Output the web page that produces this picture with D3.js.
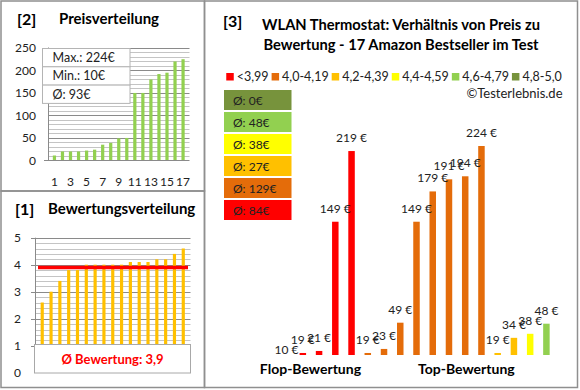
<!DOCTYPE html>
<html lang="de">
<head>
<meta charset="UTF-8">
<title>WLAN Thermostat</title>
<script src="https://cdn.jsdelivr.net/npm/d3@7"></script>
<style>
  body { margin: 0; background: #fff; }
  svg { display: block; font-family: Lato, "Liberation Sans", sans-serif; }
</style>
</head>
<body>
<svg width="580" height="390"></svg>
<script>
// Daten
var pricesSorted = [10, 19, 19, 19, 21, 23, 34, 38, 48, 49, 149, 149, 179, 191, 194, 219, 224];
var ratingsSorted = [2.6, 3.0, 3.4, 3.8, 3.8, 4.0, 4.0, 4.0, 4.0, 4.0, 4.1, 4.1, 4.1, 4.2, 4.2, 4.4, 4.6];

// Preis je Produkt (von Flop nach Top) und Bewertungsklasse
var productPrices = [10, 19, 21, 149, 219, 19, 23, 49, 149, 179, 191, 194, 224, 19, 34, 38, 48];
var productClass  = [0, 0, 0, 0, 0, 1, 1, 1, 1, 1, 1, 1, 1, 2, 2, 3, 4];

var classNames  = ['<3,99', '4,0-4,19', '4,2-4,39', '4,4-4,59', '4,6-4,79', '4,8-5,0'];
var classColors = ['#ff0000', '#e46c0a', '#ffc000', '#ffff00', '#92d050', '#77933c'];
var classAvg    = [84, 129, 27, 38, 48, 0];

var groupNames = ['Flop-Bewertung', 'Top-Bewertung'];

var svg = d3.select('svg');
var border = '#8f8f8f';

// Rahmen
svg.append('rect').attr('x', 1).attr('y', 1).attr('width', 203.5).attr('height', 190)
    .attr('fill', 'none').attr('stroke', border).attr('stroke-width', 1.5);
svg.append('rect').attr('x', 1).attr('y', 191).attr('width', 203.5).attr('height', 196.5)
    .attr('fill', 'none').attr('stroke', border).attr('stroke-width', 1.5);
svg.append('rect').attr('x', 204.5).attr('y', 1).attr('width', 373).attr('height', 386.5)
    .attr('fill', 'none').attr('stroke', border).attr('stroke-width', 1.5);

function heading(x, y, num, title, tx) {
    svg.append('text').attr('x', x).attr('y', y).attr('font-size', 16).attr('font-weight', 'bold')
        .text(num);
    svg.append('text').attr('x', tx).attr('y', y - 1).attr('font-size', 15).attr('font-weight', 'bold')
        .text(title);
}

// ---------- [2] Preisverteilung ----------
heading(17, 25, '[2]', 'Preisverteilung', 59);

var xP = d3.scaleBand().domain(d3.range(pricesSorted.length)).range([48, 189.5]).padding(0.6);
var yP = d3.scaleLinear().domain([0, 250]).range([160, 47.5]);

var gP = svg.append('g');
gP.selectAll('line.grid').data(d3.range(10, 251, 10)).enter().append('line')
    .attr('x1', 48).attr('x2', 189.5)
    .attr('y1', function (d) { return Math.round(yP(d)) + 0.5; })
    .attr('y2', function (d) { return Math.round(yP(d)) + 0.5; })
    .attr('stroke', function (d) { return d % 50 === 0 ? '#8a8a8a' : '#c4c4c4'; });
gP.append('line').attr('x1', 44).attr('x2', 189.5).attr('y1', 160.5).attr('y2', 160.5).attr('stroke', '#8a8a8a');
gP.append('line').attr('x1', 48.5).attr('x2', 48.5).attr('y1', yP(250)).attr('y2', 160.5).attr('stroke', '#8a8a8a');

gP.selectAll('rect').data(pricesSorted).enter().append('rect')
    .attr('x', function (d, i) { return xP(i); })
    .attr('width', xP.bandwidth())
    .attr('y', function (d) { return yP(d); })
    .attr('height', function (d) { return yP(0) - yP(d); })
    .attr('fill', '#92d050');

gP.selectAll('text.yl').data(d3.range(0, 251, 50)).enter().append('text')
    .attr('x', 36).attr('y', function (d) { return yP(d) + 4.5; })
    .attr('text-anchor', 'end').attr('font-size', 12).attr('fill', '#222')
    .text(function (d) { return d; });
gP.selectAll('text.xl').data(d3.range(0, 17, 2)).enter().append('text')
    .attr('x', function (d) { return xP(d) + xP.bandwidth() / 2; }).attr('y', 185.5)
    .attr('text-anchor', 'middle').attr('font-size', 12).attr('fill', '#222')
    .text(function (d) { return d + 1; });

// Infobox Max/Min/Durchschnitt
var info = ['Max.: ' + d3.max(pricesSorted) + '€',
            'Min.: ' + d3.min(pricesSorted) + '€',
            'Ø: ' + Math.round(d3.mean(pricesSorted)) + '€'];
var gI = svg.append('g');
gI.selectAll('rect').data(info).enter().append('rect')
    .attr('x', 42.5).attr('y', function (d, i) { return 48.5 + i * 18.3; })
    .attr('width', 87.5).attr('height', 18.3)
    .attr('fill', '#fff').attr('stroke', '#b4b4b4');
gI.selectAll('text').data(info).enter().append('text')
    .attr('x', 52.5).attr('y', function (d, i) { return 62 + i * 18.3; })
    .attr('font-size', 12.5).attr('fill', '#222')
    .text(function (d) { return d; });

// ---------- [1] Bewertungsverteilung ----------
heading(15, 215, '[1]', 'Bewertungsverteilung', 48);

var xR = d3.scaleBand().domain(d3.range(ratingsSorted.length)).range([35, 190.5]).padding(0.64);
var yR = d3.scaleLinear().domain([0, 5]).range([372.7, 237.7]);

var gR = svg.append('g');
gR.selectAll('line.grid').data(d3.range(1, 26)).enter().append('line')
    .attr('x1', function (d) { return d % 5 === 0 ? 31 : 35; }).attr('x2', 190.5)
    .attr('y1', function (d) { return Math.round(yR(d / 5)) + 0.5; })
    .attr('y2', function (d) { return Math.round(yR(d / 5)) + 0.5; })
    .attr('stroke', function (d) { return d % 5 === 0 ? '#8a8a8a' : '#c4c4c4'; });
gR.append('line').attr('x1', 35.5).attr('x2', 35.5).attr('y1', yR(5)).attr('y2', yR(0)).attr('stroke', '#8a8a8a');

gR.selectAll('rect').data(ratingsSorted).enter().append('rect')
    .attr('x', function (d, i) { return xR(i); })
    .attr('width', xR.bandwidth())
    .attr('y', function (d) { return yR(d); })
    .attr('height', function (d) { return yR(0) - yR(d); })
    .attr('fill', '#ffc000');

var meanRating = d3.mean(ratingsSorted);
gR.append('line').attr('x1', 38).attr('x2', 188)
    .attr('y1', yR(meanRating)).attr('y2', yR(meanRating))
    .attr('stroke', '#ff0000').attr('stroke-width', 3.5);

gR.selectAll('text.yl').data(d3.range(0, 6)).enter().append('text')
    .attr('x', 21).attr('y', function (d) { return yR(d) + 4.5; })
    .attr('text-anchor', 'end').attr('font-size', 12).attr('fill', '#222')
    .text(function (d) { return d; });

gR.append('rect').attr('x', 34.5).attr('y', 344.5).attr('width', 156).attr('height', 28.5)
    .attr('fill', '#fff').attr('stroke', '#a8a8a8');
gR.append('text').attr('x', 112.5).attr('y', 363.5)
    .attr('text-anchor', 'middle').attr('font-size', 13).attr('font-weight', 'bold').attr('fill', '#ff0000')
    .text('Ø Bewertung: ' + d3.format('.1f')(meanRating).replace('.', ','));

// ---------- [3] Preis zu Bewertung ----------
svg.append('text').attr('x', 223).attr('y', 27).attr('font-size', 16).attr('font-weight', 'bold').text('[3]');
svg.append('text').attr('x', 401).attr('y', 30).attr('text-anchor', 'middle')
    .attr('font-size', 14.7).attr('font-weight', 'bold').text('WLAN Thermostat: Verhältnis von Preis zu');
svg.append('text').attr('x', 401).attr('y', 50).attr('text-anchor', 'middle')
    .attr('font-size', 14.7).attr('font-weight', 'bold').text('Bewertung - 17 Amazon Bestseller im Test');

// Legende
var gL = svg.append('g');
var lx = 0;
classNames.forEach(function (name, i) {
    gL.append('rect').attr('x', lx).attr('y', 73).attr('width', 7.5).attr('height', 7.5).attr('fill', classColors[i]);
    var t = gL.append('text').attr('x', lx + 10.5).attr('y', 80.5).attr('font-size', 12.5).attr('fill', '#222').text(name);
    lx += 10.5 + t.node().getComputedTextLength() + 3;
});
gL.attr('transform', 'translate(' + (394 - (lx - 3) / 2) + ',0)');

svg.append('text').attr('x', 562.5).attr('y', 97.5).attr('text-anchor', 'end')
    .attr('font-size', 13).attr('fill', '#222').text('©Testerlebnis.de');

// Durchschnittspreise je Klasse (oben beste Klasse)
var avgOrder = d3.range(classNames.length).reverse();
var gA = svg.append('g');
gA.selectAll('rect').data(avgOrder).enter().append('rect')
    .attr('x', 224).attr('y', function (d, i) { return 90 + i * 22; })
    .attr('width', 67.5).attr('height', 20)
    .attr('fill', function (d) { return classColors[d]; });
gA.selectAll('text').data(avgOrder).enter().append('text')
    .attr('x', 233).attr('y', function (d, i) { return 104.5 + i * 22; })
    .attr('font-size', 12).attr('fill', '#222')
    .text(function (d) { return 'Ø: ' + classAvg[d] + '€'; });

// Balken
var xB = d3.scaleBand().domain(d3.range(productPrices.length)).range([273.6, 559.4]).padding(0.6);
var yB = d3.scaleLinear().domain([17, 224]).range([355, 146]);
var yMin = yB.domain()[0];

var gB = svg.append('g');
gB.selectAll('rect').data(productPrices).enter().append('rect')
    .attr('x', function (d, i) { return xB(i); })
    .attr('width', xB.bandwidth())
    .attr('y', function (d) { return yB(Math.max(d, yMin)); })
    .attr('height', function (d) { return yB(yMin) - yB(Math.max(d, yMin)); })
    .attr('fill', function (d, i) { return classColors[productClass[i]]; });
gB.selectAll('text').data(productPrices).enter().append('text')
    .attr('x', function (d, i) { return xB(i) + xB.bandwidth() / 2; })
    .attr('y', function (d) { return d < yMin ? yB(yMin) - 1 : yB(d) - 9; })
    .attr('text-anchor', 'middle').attr('font-size', 12).attr('fill', '#222')
    .text(function (d) { return d + ' €'; });

// Gruppenbeschriftung
var groupAt = [2.27, 11.87];
svg.selectAll('text.grp').data(groupNames).enter().append('text')
    .attr('x', function (d, i) { return xB.range()[0] + xB.step() * groupAt[i]; })
    .attr('y', 373.5).attr('text-anchor', 'middle')
    .attr('font-size', 14).attr('font-weight', 'bold')
    .text(function (d) { return d; });
</script>
</body>
</html>
